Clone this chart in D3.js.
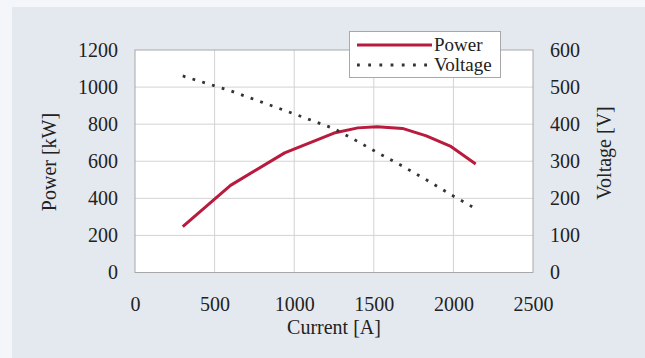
<!DOCTYPE html>
<html>
<head>
<meta charset="utf-8">
<script src="https://cdn.jsdelivr.net/npm/d3@7"></script>
<style>
  html, body { margin: 0; padding: 0; background: #f4f6f9; }
  svg { display: block; }
</style>
</head>
<body>
<div id="chart"></div>
<script>
// values
const current = [300, 600, 940, 1250, 1400, 1520, 1680, 1830, 1980, 2140]
const power = [247, 470, 645, 752, 780, 786, 777, 737, 682, 585]
const voltage = [530, 490, 437, 388, 353, 324, 287, 250, 211, 172]

const xTicks = [0, 500, 1000, 1500, 2000, 2500]
const yLeftTicks = [0, 200, 400, 600, 800, 1000, 1200]
const yRightTicks = [0, 100, 200, 300, 400, 500, 600]

const seriesNames = ['Power', 'Voltage']

const totalWidth = 645
const totalHeight = 358
const plot = { left: 135, right: 533, top: 50, bottom: 272.5 }
const font = '"Liberation Serif", "Times New Roman", serif'
const textColor = '#222222'
const powerColor = '#b81b3d'
const voltageColor = '#333333'
const gridColor = '#d3d3d3'
const frameColor = '#a8a8a8'

const svg = d3.select('#chart')
  .append('svg')
    .attr('width', totalWidth)
    .attr('height', totalHeight)

svg.append('rect')
  .attr('x', 12)
  .attr('y', 7)
  .attr('width', totalWidth - 12)
  .attr('height', totalHeight - 7)
  .attr('fill', '#e4e9f0')

const x = d3.scaleLinear()
  .domain([0, 2500])
  .range([plot.left, plot.right])

const yLeft = d3.scaleLinear()
  .domain([0, 1200])
  .range([plot.bottom, plot.top])

const yRight = d3.scaleLinear()
  .domain([0, 600])
  .range([plot.bottom, plot.top])

svg.append('rect')
  .attr('x', plot.left)
  .attr('y', plot.top)
  .attr('width', plot.right - plot.left)
  .attr('height', plot.bottom - plot.top)
  .attr('fill', '#ffffff')

// grid
const grid = svg.append('g').attr('class', 'grid')
grid.selectAll('line.v')
  .data(xTicks.slice(1, -1))
  .join('line')
    .attr('class', 'v')
    .attr('x1', d => x(d)).attr('x2', d => x(d))
    .attr('y1', plot.top).attr('y2', plot.bottom)
    .attr('stroke', gridColor)
grid.selectAll('line.h')
  .data(yLeftTicks.slice(1, -1))
  .join('line')
    .attr('class', 'h')
    .attr('x1', plot.left).attr('x2', plot.right)
    .attr('y1', d => yLeft(d)).attr('y2', d => yLeft(d))
    .attr('stroke', gridColor)

svg.append('rect')
  .attr('x', plot.left)
  .attr('y', plot.top)
  .attr('width', plot.right - plot.left)
  .attr('height', plot.bottom - plot.top)
  .attr('fill', 'none')
  .attr('stroke', frameColor)

// axes (labels only, frame drawn above)
const styleAxis = g => {
  g.select('.domain').remove()
  g.selectAll('.tick line').remove()
  g.selectAll('.tick text')
    .style('font-family', font)
    .style('font-size', '20px')
    .style('fill', textColor)
}

svg.append('g')
  .attr('transform', `translate(0,${plot.bottom})`)
  .call(d3.axisBottom(x).tickValues(xTicks).tickFormat(d3.format('d')).tickSize(0).tickPadding(24))
  .call(styleAxis)

svg.append('g')
  .attr('transform', `translate(${plot.left},0)`)
  .call(d3.axisLeft(yLeft).tickValues(yLeftTicks).tickFormat(d3.format('d')).tickSize(0).tickPadding(17))
  .call(styleAxis)

svg.append('g')
  .attr('transform', `translate(${plot.right},0)`)
  .call(d3.axisRight(yRight).tickValues(yRightTicks).tickFormat(d3.format('d')).tickSize(0).tickPadding(17))
  .call(styleAxis)

// axis titles
svg.append('text')
  .attr('x', (plot.left + plot.right) / 2)
  .attr('y', 334)
  .attr('text-anchor', 'middle')
  .style('font-family', font)
  .style('font-size', '20px')
  .style('fill', textColor)
  .text('Current [A]')

svg.append('text')
  .attr('transform', 'translate(56,162) rotate(-90)')
  .attr('text-anchor', 'middle')
  .style('font-family', font)
  .style('font-size', '20px')
  .style('fill', textColor)
  .text('Power [kW]')

svg.append('text')
  .attr('transform', 'translate(611,153) rotate(-90)')
  .attr('text-anchor', 'middle')
  .style('font-family', font)
  .style('font-size', '20px')
  .style('fill', textColor)
  .text('Voltage [V]')

// series
const idx = d3.range(current.length)

svg.append('path')
  .datum(idx)
  .attr('fill', 'none')
  .attr('stroke', powerColor)
  .attr('stroke-width', 3)
  .attr('stroke-linejoin', 'round')
  .attr('d', d3.line().x(i => x(current[i])).y(i => yLeft(power[i])))

svg.append('path')
  .datum(idx)
  .attr('fill', 'none')
  .attr('stroke', voltageColor)
  .attr('stroke-width', 2.8)
  .attr('stroke-dasharray', '2.8,7.4')
  .attr('d', d3.line().x(i => x(current[i])).y(i => yRight(voltage[i])))

// legend
const legend = svg.append('g').attr('class', 'legend')
legend.append('rect')
  .attr('x', 349.5)
  .attr('y', 31.5)
  .attr('width', 151)
  .attr('height', 46)
  .attr('fill', '#ffffff')
  .attr('stroke', frameColor)

const legendItems = legend.selectAll('g.item')
  .data(seriesNames)
  .join('g')
    .attr('class', 'item')
    .attr('transform', (d, i) => `translate(0,${45 + i * 20})`)

legendItems.append('line')
  .attr('x1', 357).attr('x2', 432)
  .attr('stroke', (d, i) => i === 0 ? powerColor : voltageColor)
  .attr('stroke-width', (d, i) => i === 0 ? 3 : 2.8)
  .attr('stroke-dasharray', (d, i) => i === 0 ? null : '2.8,8.4')

legendItems.append('text')
  .attr('x', 434)
  .attr('y', 5.5)
  .style('font-family', font)
  .style('font-size', '19px')
  .style('fill', textColor)
  .text(d => d)
</script>
</body>
</html>
